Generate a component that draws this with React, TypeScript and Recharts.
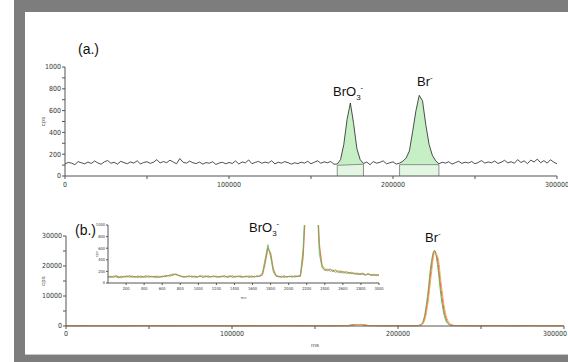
import { Area, ComposedChart, Line, XAxis, YAxis } from 'recharts';

// (a.) single run, cps sampled every 2000 ms from 0 to 300000
const topStep = 2000;
const topCps = [
    110, 125, 118, 104, 132, 121, 112, 128, 115, 138,
    120, 108, 130, 142, 117, 126, 109, 135, 122, 113,
    129, 118, 140, 111, 124, 131, 116, 127, 150, 119,
    133, 122, 145, 128, 112, 160, 126, 118, 137, 121,
    114, 128, 109, 123, 117, 131, 106, 119, 126, 112,
    124, 115, 138, 110, 129, 121, 147, 113, 125, 134,
    117, 128, 119, 140, 111, 126, 118, 132, 123, 109,
    121, 114, 127, 118, 135, 112, 126, 140, 117, 130,
    121, 133, 108,
    110, 150, 290, 520, 670, 480, 250, 150, 115,
    128, 104, 132, 118, 125, 139, 112, 121, 130, 109,
    118, 135, 165, 230, 410, 600, 740, 690, 470, 290, 190, 140, 112,
    126, 118, 131, 109, 122, 135, 116, 127, 119, 133,
    112, 125, 141, 118, 129, 121, 137, 115, 126, 144,
    120, 131, 117, 150, 124, 139, 113, 146, 128, 155,
    122, 141, 118, 149, 127, 112,
];

// integration windows (BrO3-, Br-)
const peakFrom = [166000, 204000];
const peakTo = [182000, 228000];
const peakBaseFrom = [98, 104];
const peakBaseTo = [108, 104];

// (b.) three runs
const bTimes = [
    0, 10000, 20000, 30000, 40000, 50000, 60000, 70000, 80000, 90000, 100000, 110000, 120000, 130000, 140000, 150000, 160000,
    170000, 174000, 178000, 182000, 190000, 200000, 210000,
    212000, 214000, 216000, 218000, 220000, 222000, 224000, 226000, 228000, 230000, 232000, 234000,
    240000, 250000, 260000, 270000, 280000, 290000, 300000,
];
const bGreen = [
    120, 140, 110, 130, 125, 150, 115, 135, 120, 140, 110, 130, 125, 145, 120, 135, 115,
    150, 520, 480, 140, 125, 135, 120,
    150, 600, 3500, 11000, 21000, 25200, 19500, 9500, 3200, 800, 250, 150,
    130, 120, 140, 115, 135, 125, 130,
];
const bRed = [
    130, 115, 135, 120, 140, 125, 130, 110, 145, 120, 135, 125, 115, 130, 140, 120, 125,
    130, 460, 500, 150, 120, 130, 125,
    130, 400, 2500, 9000, 19000, 25000, 21500, 12000, 4500, 1200, 350, 150,
    125, 135, 120, 130, 140, 115, 125,
];
const bOrange = [
    140, 125, 150, 135, 120, 145, 130, 150, 125, 135, 145, 120, 140, 135, 125, 150, 130,
    145, 420, 540, 170, 135, 125, 140,
    120, 300, 1800, 7500, 17000, 24300, 23000, 14000, 6000, 1800, 500, 180,
    140, 130, 150, 125, 135, 145, 130,
];

// inset, sampled every 30 units from 0 to 3000
const insetStep = 30;
const insetGreen = [
    110, 95, 120, 102, 88, 115, 105, 125, 98, 112,
    100, 118, 92, 108, 122, 97, 113, 104, 90, 116,
    107, 121, 130, 118, 145, 150, 128, 112, 99, 117,
    103, 124, 96, 110, 119, 101, 127, 94, 115, 106,
    120, 98, 111, 126, 93, 108, 117, 102, 122, 97,
    113, 105, 124, 99, 116, 108, 121,
    180, 420, 660, 450, 190, 115,
    104, 118, 96, 112, 107, 123, 101, 115,
    140, 600, 1600, 2000, 2000, 2000, 1500, 500, 260,
    230, 210, 245, 190, 220, 175, 205, 168, 190, 160,
    178, 150, 165, 142, 170, 138, 155, 130, 148, 125, 140,
];
const insetRed = [
    102, 118, 96, 123, 109, 91, 117, 104, 128, 99,
    114, 93, 121, 106, 98, 125, 103, 117, 109, 95,
    119, 108, 126, 140, 132, 158, 136, 120, 105, 111,
    122, 99, 116, 104, 127, 96, 112, 119, 101, 124,
    98, 115, 107, 121, 103, 126, 95, 118, 109, 113,
    101, 119, 97, 114, 105, 123, 110,
    150, 360, 610, 500, 230, 125,
    111, 97, 120, 105, 116, 99, 122, 108,
    120, 480, 1400, 2000, 2000, 2000, 1700, 620, 290,
    215, 238, 200, 228, 185, 212, 172, 198, 165, 185,
    158, 172, 145, 162, 150, 134, 160, 140, 128, 146, 132,
];
const insetOrange = [
    115, 100, 108, 130, 95, 121, 99, 112, 106, 127,
    96, 123, 110, 101, 127, 104, 119, 93, 124, 108,
    100, 129, 115, 135, 160, 141, 130, 108, 118, 97,
    126, 107, 120, 98, 113, 130, 100, 121, 109, 118,
    111, 104, 125, 97, 120, 112, 128, 99, 116, 124,
    107, 121, 102, 128, 100, 117, 125,
    130, 320, 580, 540, 260, 135,
    120, 104, 127, 99, 121, 110, 118, 128,
    110, 400, 1300, 2000, 2000, 2000, 1800, 700, 310,
    250, 222, 240, 205, 232, 190, 215, 180, 202, 170,
    188, 160, 175, 150, 168, 145, 158, 136, 152, 130, 145,
];

const timeTicks = [0, 50000, 100000, 150000, 200000, 250000, 300000];
const topYTicks = [0, 100, 200, 300, 400, 500, 600, 700, 800, 900, 1000];
const bottomYTicks = [0, 5000, 10000, 15000, 20000, 25000, 30000];
const insetXTicks = [200, 400, 600, 800, 1000, 1200, 1400, 1600, 1800, 2000, 2200, 2400, 2600, 2800, 3000];
const insetYTicks = [0, 200, 400, 600, 800, 1000];

const GREEN = '#5cb85c';
const RED = '#c8605a';
const ORANGE = '#f5a545';
const AXIS = '#555555';
const tickFont = "'Liberation Sans Narrow', 'DejaVu Sans Condensed', sans-serif";
const labelFont = "'Liberation Sans', Arial, sans-serif";

const topData = topCps.map((v, i) => ({ t: i * topStep, v }));
const bottomData = bTimes.map((t, i) => ({ t, g: bGreen[i], r: bRed[i], o: bOrange[i] }));
const insetData = insetGreen.map((g, i) => ({ t: i * insetStep, g, r: insetRed[i], o: insetOrange[i] }));

// labels only on major ticks; the right-most x label is kept inside the page
function axisTick(major: number, axis: 'x' | 'y', size: number, maxX = 10000) {
    return (props: any) => {
        const { x, y, payload } = props;
        if (payload.value % major !== 0) return <g />;
        const label = String(payload.value);
        const halfW = label.length * size * 0.23;
        const fits = axis === 'y' || x + halfW <= maxX;
        return (
            <text
                x={fits ? x : maxX}
                y={y}
                dy={axis === 'x' ? '0.71em' : '0.35em'}
                textAnchor={axis === 'y' ? 'end' : fits ? 'middle' : 'end'}
                fontSize={size}
                fontFamily={tickFont}
                stroke="none"
                style={{ fill: '#333' }}
            >
                {label}
            </text>
        );
    };
}

function Ion({ name, sub, left, top }: { name: string; sub?: string; left: number; top: number }) {
    return (
        <div style={{ position: 'absolute', left, top, fontFamily: labelFont, fontSize: 13, lineHeight: 1, color: '#111', whiteSpace: 'nowrap' }}>
            {name}
            {sub && <span style={{ fontSize: 8, position: 'relative', top: 4 }}>{sub}</span>}
            <span style={{ fontSize: 8, position: 'relative', top: -6 }}>-</span>
        </div>
    );
}

function TopChart() {
    return (
        <ComposedChart width={568} height={200} margin={{ top: 67, right: 11, bottom: 4, left: 25 }}>
            <XAxis
                type="number"
                dataKey="t"
                domain={[0, 300000]}
                ticks={timeTicks}
                interval={0}
                height={20}
                stroke={AXIS}
                tickSize={3}
                tickMargin={3}
                tick={axisTick(100000, 'x', 7, 567)}
            />
            <YAxis
                type="number"
                domain={[0, 1000]}
                ticks={topYTicks}
                interval={0}
                width={40}
                stroke={AXIS}
                tickSize={3}
                tickMargin={1}
                tick={axisTick(200, 'y', 7)}
                label={{ value: 'cps', angle: -90, position: 'center', dx: -2, fontSize: 6, fill: '#555', fontFamily: labelFont }}
            />
            {peakFrom.map((from, k) => (
                <Area
                    key={`fill${k}`}
                    data={topData.filter((d) => d.t >= from && d.t <= peakTo[k])}
                    dataKey="v"
                    type="linear"
                    fill="#c6efc6"
                    fillOpacity={1}
                    stroke="none"
                    isAnimationActive={false}
                />
            ))}
            {peakFrom.map((from, k) => (
                <Area
                    key={`base${k}`}
                    data={[{ t: from, v: peakBaseFrom[k] }, { t: peakTo[k], v: peakBaseTo[k] }]}
                    dataKey="v"
                    type="linear"
                    fill="#e2f6e2"
                    fillOpacity={1}
                    stroke="none"
                    isAnimationActive={false}
                />
            ))}
            {peakFrom.map((from, k) => (
                <Line
                    key={`edge${k}`}
                    data={[
                        { t: from, v: 0 },
                        { t: from, v: peakBaseFrom[k] },
                        { t: peakTo[k], v: peakBaseTo[k] },
                        { t: peakTo[k], v: 0 },
                    ]}
                    dataKey="v"
                    type="linear"
                    stroke="#777"
                    strokeWidth={0.8}
                    dot={false}
                    activeDot={false}
                    isAnimationActive={false}
                />
            ))}
            <Line
                data={topData}
                dataKey="v"
                type="linear"
                stroke="#222"
                strokeWidth={0.8}
                dot={false}
                activeDot={false}
                isAnimationActive={false}
            />
        </ComposedChart>
    );
}

function BottomChart() {
    return (
        <ComposedChart data={bottomData} width={568} height={158} margin={{ top: 36, right: 4, bottom: 6, left: 26 }}>
            <XAxis
                type="number"
                dataKey="t"
                domain={[0, 300000]}
                ticks={timeTicks}
                interval={0}
                height={26}
                stroke={AXIS}
                tickSize={3}
                tickMargin={2}
                tick={axisTick(100000, 'x', 7, 567)}
                label={{ value: 'ms', position: 'insideBottom', offset: 5, fontSize: 6, fill: '#555', fontFamily: labelFont }}
            />
            <YAxis
                type="number"
                domain={[0, 30000]}
                ticks={bottomYTicks}
                interval={0}
                width={40}
                stroke={AXIS}
                tickSize={3}
                tickMargin={1}
                tick={axisTick(10000, 'y', 7)}
                label={{ value: 'cps', angle: -90, position: 'center', dx: -3, fontSize: 6, fill: '#555', fontFamily: labelFont }}
            />
            <Line dataKey="g" type="monotone" stroke={GREEN} strokeWidth={1} dot={false} activeDot={false} isAnimationActive={false} />
            <Line dataKey="r" type="monotone" stroke={RED} strokeWidth={1} dot={false} activeDot={false} isAnimationActive={false} />
            <Line dataKey="o" type="monotone" stroke={ORANGE} strokeWidth={1} dot={false} activeDot={false} isAnimationActive={false} />
        </ComposedChart>
    );
}

function InsetChart() {
    return (
        <ComposedChart data={insetData} width={296} height={84} margin={{ top: 7, right: 5, bottom: 2, left: 6 }}>
            <XAxis
                type="number"
                dataKey="t"
                domain={[0, 3000]}
                ticks={insetXTicks}
                interval={0}
                height={17}
                stroke={AXIS}
                tickSize={2}
                tickMargin={2}
                tick={axisTick(200, 'x', 4)}
                label={{ value: 'ms', position: 'insideBottom', offset: 1, fontSize: 4, fill: '#555', fontFamily: labelFont }}
            />
            <YAxis
                type="number"
                domain={[0, 1000]}
                allowDataOverflow
                ticks={insetYTicks}
                interval={0}
                width={14}
                stroke={AXIS}
                tickSize={2}
                tickMargin={1}
                tick={axisTick(200, 'y', 4)}
                label={{ value: 'cps', angle: -90, position: 'center', dx: -4, fontSize: 4, fill: '#555', fontFamily: labelFont }}
            />
            <Line dataKey="o" type="linear" stroke={ORANGE} strokeWidth={0.8} dot={false} activeDot={false} isAnimationActive={false} />
            <Line dataKey="r" type="linear" stroke={RED} strokeWidth={0.8} dot={false} activeDot={false} isAnimationActive={false} />
            <Line dataKey="g" type="linear" stroke={GREEN} strokeWidth={0.8} dot={false} activeDot={false} isAnimationActive={false} />
        </ComposedChart>
    );
}

export default function App() {
    return (
        <div style={{ position: 'absolute', left: 0, top: 0, width: 568, height: 362, background: '#fff', overflow: 'hidden' }}>
            <div style={{ position: 'absolute', left: 14, top: 0, width: 554, height: 362, background: '#7d7d7d' }} />
            <div style={{ position: 'absolute', left: 25, top: 12, width: 543, height: 342, background: '#fff', borderBottom: '1px solid #c8c8c8' }} />

            <div style={{ position: 'absolute', left: 0, top: 0 }}>
                <TopChart />
            </div>
            <div style={{ position: 'absolute', left: 0, top: 200 }}>
                <BottomChart />
            </div>
            <div style={{ position: 'absolute', left: 88, top: 218 }}>
                <InsetChart />
            </div>

            <div style={{ position: 'absolute', left: 78, top: 42, fontFamily: labelFont, fontSize: 14, lineHeight: 1, color: '#111' }}>(a.)</div>
            <div style={{ position: 'absolute', left: 75, top: 223, fontFamily: labelFont, fontSize: 14, lineHeight: 1, color: '#111' }}>(b.)</div>
            <Ion name="BrO" sub="3" left={333} top={85} />
            <Ion name="Br" left={417} top={75} />
            <Ion name="BrO" sub="3" left={249} top={221} />
            <Ion name="Br" left={425} top={231} />
        </div>
    );
}
